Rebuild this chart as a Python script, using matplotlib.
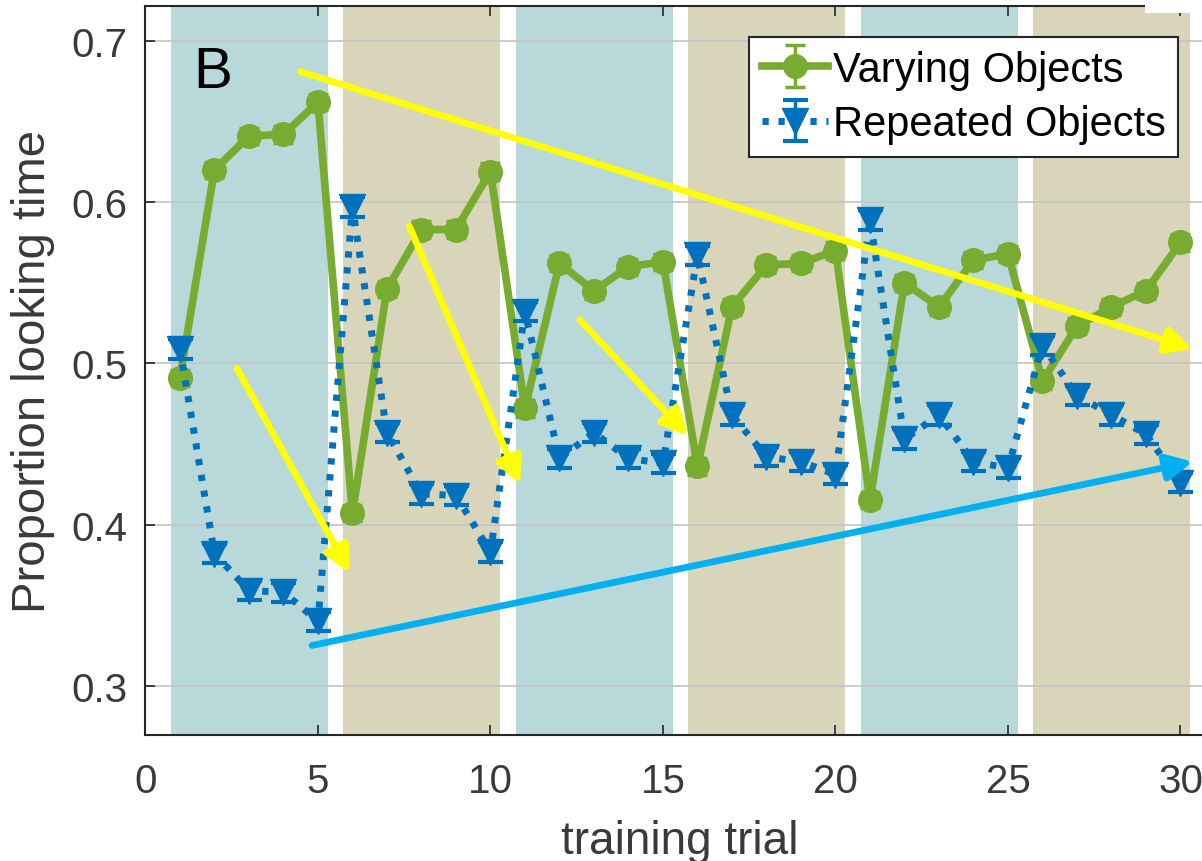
import numpy as np
import matplotlib
matplotlib.use("Agg")
import matplotlib.pyplot as plt
from matplotlib.patches import Rectangle

plt.rcParams['font.family'] = ['Liberation Sans', 'DejaVu Sans']

# data
trial = np.arange(1, 31)
varying = [0.491, 0.620, 0.641, 0.642, 0.662, 0.407, 0.546, 0.583, 0.583, 0.619,
           0.472, 0.562, 0.545, 0.560, 0.563, 0.436, 0.535, 0.561, 0.562, 0.570,
           0.415, 0.550, 0.535, 0.564, 0.568, 0.489, 0.523, 0.535, 0.545, 0.575]
repeated = [0.509, 0.382, 0.359, 0.358, 0.340, 0.597, 0.457, 0.419, 0.418, 0.383,
            0.532, 0.441, 0.457, 0.441, 0.438, 0.567, 0.468, 0.442, 0.439, 0.431,
            0.589, 0.453, 0.468, 0.439, 0.435, 0.511, 0.480, 0.468, 0.456, 0.426]
varying_err = [0.005] * 30
repeated_err = [0.006] * 30

# block shading (trials 1-5, 6-10, ...)
block_start = [0.73, 5.73, 10.73, 15.73, 20.73, 25.73]
block_end = [5.28, 10.28, 15.28, 20.28, 25.28, 30.28]
block_color = ['#b9d8da', '#d8d5ba', '#b9d8da', '#d8d5ba', '#b9d8da', '#d8d5ba']

# hand-drawn arrows: (x0, y0, x1, y1)
yellow_arrows = [(2.65, 0.497, 5.93, 0.370),
                 (7.65, 0.585, 10.86, 0.425),
                 (12.59, 0.527, 15.73, 0.455),
                 (4.48, 0.681, 30.36, 0.509)]
blue_arrow = (4.83, 0.325, 30.36, 0.439)

green = '#77ac30'
blue = '#0072bd'

fig = plt.figure(figsize=(12.02, 8.62), dpi=100)
ax = fig.add_axes([0.121, 0.1465, 0.8898, 0.8454])

for x0, x1, c in zip(block_start, block_end, block_color):
    ax.axvspan(x0, x1, color=c, lw=0, zorder=0)

ax.errorbar(trial, varying, yerr=varying_err, color=green, lw=5.5, marker='o',
            ms=17, capsize=7, elinewidth=2.5, capthick=2.5, label='Varying Objects', zorder=3)
ax.errorbar(trial, repeated, yerr=repeated_err, color=blue, lw=5, ls=(0, (0.9, 1.4)),
            marker='v', ms=19, capsize=9, elinewidth=2.5, capthick=3,
            label='Repeated Objects', zorder=4)

arrow_style = '-|>,head_length=0.6,head_width=0.3'
for x0, y0, x1, y1 in yellow_arrows:
    ax.annotate('', xy=(x1, y1), xytext=(x0, y0),
                arrowprops=dict(arrowstyle=arrow_style, color='#ffff00', lw=4.8,
                                mutation_scale=26, shrinkA=0, shrinkB=0), zorder=6)
ax.annotate('', xy=blue_arrow[2:], xytext=blue_arrow[:2],
            arrowprops=dict(arrowstyle=arrow_style, color='#00b0f0', lw=4.8,
                            mutation_scale=26, shrinkA=0, shrinkB=0), zorder=6)

ax.text(1.38, 0.681, 'B', fontsize=42, va='center', ha='left', color='black', zorder=7)

ax.set_xlim(0, 31)
ax.set_ylim(0.2696, 0.7217)
ax.set_xticks([0, 5, 10, 15, 20, 25, 30])
ax.set_yticks([0.3, 0.4, 0.5, 0.6, 0.7])
ax.set_axisbelow(True)
ax.yaxis.grid(True, color='#c4c4c4', lw=1.2)
ax.tick_params(direction='in', top=True, right=True, length=7, width=1.2,
               labelsize=29, colors='#262626', labelcolor='#3a3a3a')
ax.tick_params(axis='x', pad=20)
ax.tick_params(axis='y', pad=13)
for s in ax.spines.values():
    s.set_color('#262626')
    s.set_linewidth(1.5)

ax.set_xlabel('training trial', fontsize=33, color='#3a3a3a', labelpad=13)
ax.set_ylabel('Proportion looking time', fontsize=34, color='#3a3a3a', labelpad=12)

leg = ax.legend(loc='upper right', bbox_to_anchor=(0.9654, 0.9574), borderaxespad=0,
                fontsize=30, fancybox=False, framealpha=1, edgecolor='#262626',
                handlelength=1.6, handletextpad=0.1, borderpad=0.3, labelspacing=0.35)
leg.get_frame().set_linewidth(1.5)
leg.set_zorder(8)

# white patch over the top-right corner of the screenshot
fig.patches.append(Rectangle((0.9526, 0.9838), 0.05, 0.0165, transform=fig.transFigure,
                             facecolor='white', edgecolor='none', zorder=10))

fig.savefig('out.png', dpi=100)
